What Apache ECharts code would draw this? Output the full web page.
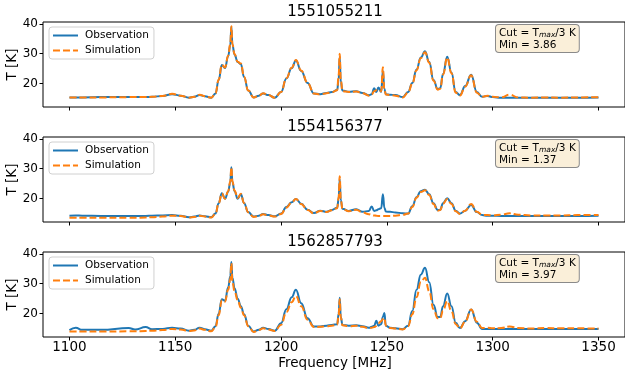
<!DOCTYPE html>
<html>
<head>
<meta charset="utf-8">
<script src="https://cdn.jsdelivr.net/npm/echarts@6/dist/echarts.min.js"></script>
<style>
  html, body { margin: 0; padding: 0; background: #fff; }
  #chart { width: 625px; height: 376px; }
</style>
</head>
<body>
<div id="chart"></div>
<script>
// frequency grid (MHz), denser around the narrow lines
const freq = [
  1100, 1103, 1106, 1115, 1128, 1131, 1136, 1139, 1144, 1148.5,
  1152.5, 1156.5, 1159, 1161.5, 1164, 1167, 1169, 1170.5, 1172, 1173.5,
  1175, 1176, 1176.5, 1177, 1178, 1179.5, 1181, 1182.5, 1184.5, 1187,
  1189.5, 1191.5, 1194, 1197, 1200, 1202.5, 1205, 1207, 1209.5, 1212.5,
  1215.5, 1218.5, 1221.5, 1224, 1226.5, 1227.2, 1227.7, 1228.2, 1229, 1232,
  1235.5, 1238.5, 1241.5, 1242.8, 1244, 1245, 1246, 1247.3, 1248.1, 1248.8,
  1249.5, 1251.5, 1254, 1257.5, 1260, 1262, 1264, 1266, 1268, 1270,
  1272, 1274, 1275.2, 1276.5, 1278.5, 1280.5, 1282.5, 1284.5, 1287, 1289.8,
  1292.5, 1295, 1297.5, 1300, 1304, 1308, 1312, 1318, 1325, 1332,
  1340, 1350
];

// panel 1 - 1551055211
const obs1 = [
  15.4, 15.4, 15.4, 15.5, 15.5, 15.5, 15.5, 15.6, 15.9, 16.5,
  16.0, 15.3, 15.6, 16.2, 15.8, 15.3, 16.7, 21.2, 26.2, 25.2,
  29.2, 33.0, 39.0, 33.0, 29.7, 27.2, 26.5, 22.2, 17.7, 15.4,
  16.0, 16.7, 16.2, 15.3, 17.2, 21.7, 25.2, 27.7, 24.2, 20.2,
  16.7, 16.5, 16.9, 17.2, 17.9, 21.5, 29.0, 20.7, 17.7, 17.3,
  17.5, 16.9, 16.1, 16.5, 18.5, 17.2, 18.7, 17.2, 24.2, 18.2,
  16.5, 16.3, 16.2, 15.5, 17.2, 20.2, 24.7, 28.7, 30.8, 27.2,
  21.2, 18.2, 18.5, 23.2, 29.0, 23.7, 17.2, 16.2, 19.2, 23.0,
  17.2, 15.6, 15.9, 15.5, 15.3, 15.3, 15.3, 15.3, 15.3, 15.3,
  15.3, 15.4
];
const sim1 = [
  15.4, 15.4, 15.4, 15.4, 15.5, 15.5, 15.5, 15.6, 15.9, 16.6,
  16.0, 15.3, 15.6, 16.3, 15.8, 15.3, 16.8, 21.3, 26.3, 25.4,
  29.4, 33.2, 39.2, 33.2, 29.9, 27.3, 26.7, 22.3, 17.7, 15.4,
  16.0, 16.8, 16.2, 15.3, 17.2, 21.8, 25.3, 27.9, 24.4, 20.3,
  16.7, 16.4, 16.8, 17.1, 17.8, 23.0, 30.0, 21.5, 17.5, 17.2,
  17.4, 16.8, 16.0, 16.4, 17.5, 17.8, 17.3, 17.5, 25.5, 18.0,
  16.4, 16.2, 16.0, 15.4, 17.0, 20.0, 24.5, 28.5, 30.5, 27.0,
  21.0, 18.0, 18.3, 23.0, 28.7, 23.5, 17.0, 16.0, 19.0, 22.8,
  17.0, 15.6, 16.0, 15.6, 15.4, 16.3, 15.4, 15.3, 15.4, 15.3,
  15.4, 15.5
];

// panel 2 - 1554156377
const obs2 = [
  14.3, 14.4, 14.3, 14.2, 14.2, 14.2, 14.2, 14.3, 14.4, 14.5,
  14.3, 13.8, 14.0, 14.4, 14.1, 13.8, 15.0, 18.5, 21.8, 20.0,
  22.3, 25.5, 30.5, 25.5, 22.5, 20.0, 21.5, 18.5, 15.5, 14.0,
  14.3, 14.9, 14.5, 14.1, 15.0, 17.2, 18.8, 19.9, 18.3, 16.3,
  15.2, 16.0, 15.6, 16.2, 17.0, 20.0, 26.5, 19.5, 16.6, 15.9,
  16.5, 15.6, 15.9, 17.4, 15.9, 16.1, 16.5, 16.8, 21.5, 17.0,
  15.7, 15.6, 15.4, 15.1, 15.0, 17.5, 20.5, 22.5, 23.0, 21.5,
  18.5, 16.2, 16.3, 18.5, 20.1, 18.5, 16.0, 15.0, 16.0, 17.9,
  15.5, 14.5, 14.3, 14.3, 14.2, 14.2, 14.2, 14.2, 14.2, 14.2,
  14.2, 14.3
];
const sim2 = [
  13.6, 13.6, 13.6, 13.6, 13.6, 13.6, 13.7, 13.8, 14.0, 14.3,
  14.2, 13.7, 13.9, 14.3, 14.0, 13.7, 14.9, 18.4, 21.7, 20.0,
  22.5, 25.8, 30.5, 25.8, 22.7, 20.2, 21.6, 18.5, 15.4, 13.9,
  14.2, 14.8, 14.4, 14.0, 14.9, 17.0, 18.7, 19.9, 18.2, 16.2,
  15.1, 15.9, 15.5, 16.1, 16.8, 20.5, 27.5, 20.0, 16.5, 15.8,
  16.3, 15.4, 14.8, 14.6, 14.4, 14.3, 14.2, 14.2, 14.2, 14.2,
  14.2, 14.2, 14.3, 14.6, 15.0, 17.2, 20.3, 22.2, 22.8, 21.2,
  18.2, 16.0, 16.2, 18.3, 19.9, 18.2, 15.8, 14.9, 16.0, 18.2,
  15.6, 14.6, 14.5, 14.4, 14.6, 15.1, 14.6, 14.4, 14.4, 14.4,
  14.5, 14.5
];

// panel 3 - 1562857793
const obs3 = [
  14.5, 15.3, 14.6, 14.6, 15.2, 14.7, 15.5, 14.8, 14.9, 15.3,
  15.0, 14.3, 14.6, 15.3, 14.8, 14.3, 15.8, 20.0, 24.8, 24.3,
  28.8, 32.5, 37.3, 32.0, 28.5, 25.0, 22.5, 19.8, 16.0, 14.0,
  14.6, 15.3, 14.9, 14.3, 16.8, 21.5, 25.5, 28.0, 23.5, 18.5,
  15.7, 15.7, 16.0, 16.2, 16.5, 20.0, 25.3, 19.0, 16.2, 16.0,
  16.1, 15.8, 15.3, 15.6, 16.0, 17.6, 16.0, 16.5, 19.0, 20.2,
  16.0, 15.3, 15.1, 14.8, 16.0, 20.9, 28.0, 33.0, 35.3, 30.5,
  23.0, 18.9, 18.9, 22.5, 26.7, 22.5, 17.0, 15.2, 17.5, 21.4,
  17.0, 14.9, 14.9, 14.9, 14.9, 14.9, 14.9, 14.9, 14.9, 14.9,
  14.9, 14.9
];
const sim3 = [
  14.0, 14.0, 14.0, 14.0, 14.1, 14.1, 14.2, 14.3, 14.5, 14.9,
  14.7, 14.2, 14.4, 15.0, 14.6, 14.1, 15.5, 19.5, 24.5, 24.0,
  28.0, 31.5, 36.8, 30.5, 27.5, 24.5, 22.0, 19.5, 15.8, 13.9,
  14.5, 15.1, 14.7, 14.2, 16.3, 20.5, 23.8, 25.9, 22.5, 18.0,
  15.5, 15.6, 15.8, 16.0, 16.3, 19.5, 24.8, 18.8, 16.1, 15.8,
  16.0, 15.6, 15.1, 15.3, 15.5, 15.9, 16.8, 17.5, 18.2, 18.6,
  16.0, 15.2, 15.0, 14.7, 15.8, 19.8, 25.5, 30.5, 32.0, 27.5,
  21.5, 18.5, 18.5, 21.0, 24.2, 20.8, 16.5, 15.1, 17.3, 21.4,
  17.3, 15.2, 15.3, 15.1, 15.2, 15.7, 15.2, 15.0, 15.2, 15.1,
  15.1, 15.0
];

const titles = ['1551055211', '1554156377', '1562857793'];
const minValues = ['3.86', '1.37', '3.97'];
const xTicks = [1100, 1150, 1200, 1250, 1300, 1350];
const yTicks = [20, 30, 40];

const observations = [obs1, obs2, obs3];
const simulations = [sim1, sim2, sim3];

const FONT = 'DejaVu Sans';
const panelTops = [22, 137, 252];
const panelHeight = 85;

const chart = echarts.init(document.getElementById('chart'));

const grids = [], xAxes = [], yAxes = [], series = [], legends = [], graphics = [];

panelTops.forEach((top, i) => {
  grids.push({
    left: 43, top: top, width: 584, height: panelHeight,
    show: true, borderColor: '#000', borderWidth: 1, backgroundColor: 'transparent'
  });
  xAxes.push({
    type: 'value', gridIndex: i, min: 1087.5, max: 1362.5,
    axisLine: { show: false },
    splitLine: { show: false },
    axisTick: { show: true, length: 3.5, lineStyle: { color: '#000' }, customValues: xTicks },
    axisLabel: {
      show: i === 2, customValues: xTicks, margin: 3,
      formatter: v => String(v),
      fontFamily: FONT, fontSize: 13.5, color: '#000'
    }
  });
  yAxes.push({
    type: 'value', gridIndex: i, min: 12.2, max: 40.6,
    axisLine: { show: false },
    splitLine: { show: false },
    axisTick: { show: true, length: 3.5, lineStyle: { color: '#000' }, customValues: yTicks },
    axisLabel: { customValues: yTicks, margin: 5, fontFamily: FONT, fontSize: 12, color: '#000' }
  });

  series.push({
    name: 'Observation', type: 'line', xAxisIndex: i, yAxisIndex: i,
    data: freq.map((f, k) => [f, observations[i][k]]),
    symbol: 'none', smooth: 0.45, smoothMonotone: 'x',
    lineStyle: { color: '#1f77b4', width: 2 },
    itemStyle: { color: '#1f77b4' }
  });
  series.push({
    name: 'Simulation', type: 'line', xAxisIndex: i, yAxisIndex: i,
    data: freq.map((f, k) => [f, simulations[i][k]]),
    symbol: 'none', smooth: 0.45, smoothMonotone: 'x',
    lineStyle: { color: '#ff7f0e', width: 2, type: [7, 3] },
    itemStyle: { color: '#ff7f0e' }
  });

  legends.push({
    data: ['Observation', 'Simulation'],
    orient: 'vertical', left: 49, top: top + 5,
    itemWidth: 25, itemHeight: 12, itemGap: 4,
    padding: [3, 5, 3, 3],
    backgroundColor: 'rgba(255,255,255,0.8)',
    borderColor: '#d0d0d0', borderWidth: 1, borderRadius: 3,
    selectedMode: false,
    itemStyle: { opacity: 0 },
    textStyle: { fontFamily: FONT, fontSize: 10.5, color: '#000', padding: [0, 0, 0, 2] }
  });

  // panel title
  graphics.push({
    type: 'text', x: 335, y: top - 9.5,
    style: {
      text: titles[i], font: '15px ' + FONT, fill: '#000',
      textAlign: 'center', textVerticalAlign: 'middle'
    }
  });
  // y axis name
  graphics.push({
    type: 'text', x: 12.5, y: top + panelHeight / 2, rotation: Math.PI / 2,
    style: {
      text: 'T [K]', font: '13.5px ' + FONT, fill: '#000',
      textAlign: 'center', textVerticalAlign: 'middle'
    }
  });
  // annotation box
  graphics.push({
    type: 'text', x: 496, y: top + 3,
    style: {
      text: '{a|Cut = T}{s|max}{a|/3 K}\n{a|Min = ' + minValues[i] + '}',
      rich: {
        a: { fontFamily: FONT, fontSize: 10.5, lineHeight: 12, fill: '#000' },
        s: { fontFamily: FONT, fontSize: 7.5, fontStyle: 'italic', lineHeight: 6, verticalAlign: 'bottom', fill: '#000' }
      },
      backgroundColor: '#faefd9', borderColor: '#8a8a8a', borderWidth: 1, borderRadius: 3,
      padding: [2, 3, 1, 3],
      textAlign: 'left', textVerticalAlign: 'top'
    }
  });
});

graphics.push({
  type: 'text', x: 335, y: 363,
  style: {
    text: 'Frequency [MHz]', font: '13.5px ' + FONT, fill: '#000',
    textAlign: 'center', textVerticalAlign: 'middle'
  }
});

chart.setOption({
  animation: false,
  backgroundColor: '#fff',
  grid: grids,
  xAxis: xAxes,
  yAxis: yAxes,
  legend: legends,
  series: series,
  graphic: graphics
});
</script>
</body>
</html>
